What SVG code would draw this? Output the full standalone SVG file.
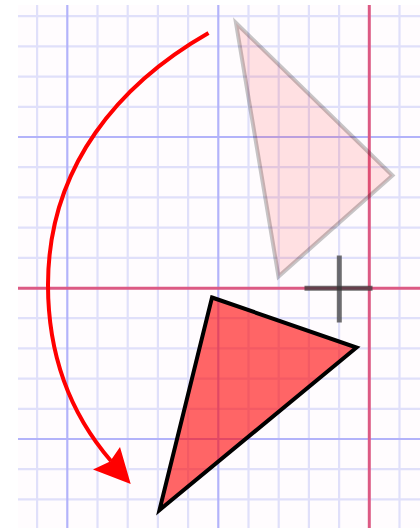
<svg xmlns="http://www.w3.org/2000/svg" width="420" height="528" viewBox="0 0 420 528">
  <defs>
    <style>
      .minor { stroke: #e0e0fa; stroke-width: 2.2; }
      .major { stroke: #b3b3fa; stroke-width: 2.2; }
      .axis { stroke: #dc5a84; stroke-width: 3; }
      .tri-ghost { fill: #ff0000; fill-opacity: 0.11; stroke: #000; stroke-opacity: 0.22; stroke-width: 4; stroke-linejoin: miter; }
      .tri-main { fill: #ff0000; fill-opacity: 0.6; stroke: #000; stroke-width: 4; stroke-linejoin: miter; }
      .pivot { stroke: #333; stroke-opacity: 0.7; stroke-width: 5; }
      .arrow { fill: none; stroke: #ff0000; stroke-width: 4; }
      .arrowhead { fill: #ff0000; }
    </style>
  </defs>
  <rect x="0" y="0" width="420" height="528" fill="#ffffff"/>
  <g id="grid">
    <rect x="18" y="5" width="402" height="523" fill="#fffcfe"/>
    <g class="minor">
      <line x1="37.1" y1="5" x2="37.1" y2="528"/>
      <line x1="97.5" y1="5" x2="97.5" y2="528"/>
      <line x1="127.7" y1="5" x2="127.7" y2="528"/>
      <line x1="157.9" y1="5" x2="157.9" y2="528"/>
      <line x1="188.1" y1="5" x2="188.1" y2="528"/>
      <line x1="248.5" y1="5" x2="248.5" y2="528"/>
      <line x1="278.7" y1="5" x2="278.7" y2="528"/>
      <line x1="308.9" y1="5" x2="308.9" y2="528"/>
      <line x1="339.1" y1="5" x2="339.1" y2="528"/>
      <line x1="399.5" y1="5" x2="399.5" y2="528"/>
      <line x1="18" y1="16.2" x2="420" y2="16.2"/>
      <line x1="18" y1="46.4" x2="420" y2="46.4"/>
      <line x1="18" y1="76.6" x2="420" y2="76.6"/>
      <line x1="18" y1="106.8" x2="420" y2="106.8"/>
      <line x1="18" y1="167.2" x2="420" y2="167.2"/>
      <line x1="18" y1="197.4" x2="420" y2="197.4"/>
      <line x1="18" y1="227.6" x2="420" y2="227.6"/>
      <line x1="18" y1="257.8" x2="420" y2="257.8"/>
      <line x1="18" y1="318.2" x2="420" y2="318.2"/>
      <line x1="18" y1="348.4" x2="420" y2="348.4"/>
      <line x1="18" y1="378.6" x2="420" y2="378.6"/>
      <line x1="18" y1="408.8" x2="420" y2="408.8"/>
      <line x1="18" y1="469.2" x2="420" y2="469.2"/>
      <line x1="18" y1="499.4" x2="420" y2="499.4"/>
    </g>
    <g class="major">
      <line x1="67.3" y1="5" x2="67.3" y2="528"/>
      <line x1="218.3" y1="5" x2="218.3" y2="528"/>
      <line x1="18" y1="137" x2="420" y2="137"/>
      <line x1="18" y1="439" x2="420" y2="439"/>
    </g>
    <g class="axis">
      <line x1="369.3" y1="5" x2="369.3" y2="528"/>
      <line x1="18" y1="288.2" x2="420" y2="288.2"/>
    </g>
  </g>
  <g id="triangle-before">
    <polygon class="tri-ghost" points="236,23 392.5,175.5 278.5,276.5"/>
  </g>
  <g id="pivot">
    <line class="pivot" x1="304.5" y1="288.3" x2="372.5" y2="288.3"/>
    <line class="pivot" x1="339.3" y1="255.5" x2="339.3" y2="322.5"/>
  </g>
  <g id="triangle-after">
    <polygon class="tri-main" points="212,297.5 356.5,347.5 159.5,510"/>
  </g>
  <g id="connectors">
    <path class="arrow" d="M208.5,33 C121,83 48,165 48,285 C48,370 80,425 111,461"/>
    <polygon class="arrowhead" points="130.7,484 93,469.5 110,461.5 120,447"/>
  </g>
</svg>
